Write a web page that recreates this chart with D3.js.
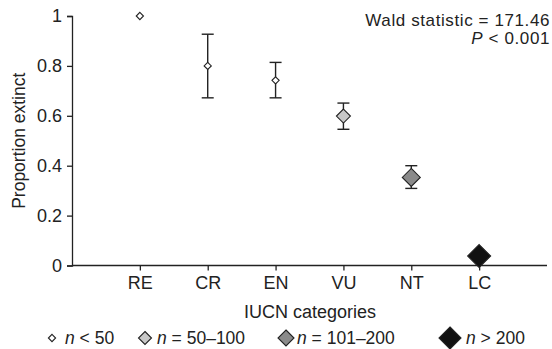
<!DOCTYPE html>
<html>
<head>
<meta charset="utf-8">
<script src="https://cdn.jsdelivr.net/npm/d3@7"></script>
<style>
body { margin: 0; background: #fff; }
text { font-family: "Liberation Sans", Arial, sans-serif; fill: #222; }
</style>
</head>
<body>
<div id="chart"></div>
<script>
// data
const categories = ["RE", "CR", "EN", "VU", "NT", "LC"];
const proportion = [1.0, 0.80, 0.742, 0.599, 0.353, 0.038];
const lower = [null, 0.672, 0.672, 0.546, 0.309, null];
const upper = [null, 0.927, 0.814, 0.651, 0.400, null];
const sizeClass = [0, 0, 0, 1, 2, 3];
const yTicks = [0, 0.2, 0.4, 0.6, 0.8, 1];
const legendLabels = ["< 50", "= 50\u2013100", "= 101\u2013200", "> 200"];

const width = 552, height = 349;
const svg = d3.select("#chart").append("svg")
  .attr("width", width).attr("height", height);

const x = d3.scaleLinear().domain([0, 7]).range([72, 547]);
const y = d3.scaleLinear().domain([0, 1]).range([265.5, 16]);

// marker styles per sample size class
const fills = ["#fff", "#c8c8c8", "#8a8a8a", "#111"];
const radii = [3.6, 7, 9, 11.5];
const diamond = r => `M0,${-r}L${r},0L0,${r}L${-r},0Z`;

// y axis
const yAxis = d3.axisLeft(y).tickValues(yTicks).tickSize(5).tickPadding(5)
  .tickFormat(d => d3.format("")(d));
const gy = svg.append("g").attr("transform", `translate(${x(0)},0)`).call(yAxis);
gy.select(".domain").attr("stroke", "#222").attr("stroke-width", 1.3);
gy.selectAll(".tick line").attr("stroke", "#222").attr("stroke-width", 1.3);
gy.selectAll(".tick text").style("font-size", "18px").attr("fill", "#222");

// x axis
const xAxis = d3.axisBottom(x).tickValues(d3.range(1, 7)).tickSize(5).tickPadding(6)
  .tickFormat(d => categories[d - 1]);
const gx = svg.append("g").attr("transform", `translate(0,${y(0)})`).call(xAxis);
gx.select(".domain").attr("stroke", "#222").attr("stroke-width", 1.3)
  .attr("d", `M${x(0)},0H${x(7)}`);
gx.selectAll(".tick line").attr("stroke", "#222").attr("stroke-width", 1.3);
gx.selectAll(".tick text").style("font-size", "18px").attr("fill", "#222");

// axis titles
svg.append("text")
  .attr("transform", `translate(25,${y(0.5)}) rotate(-90)`)
  .attr("text-anchor", "middle")
  .style("font-size", "17.5px")
  .text("Proportion extinct");

svg.append("text")
  .attr("x", 310).attr("y", 318)
  .attr("text-anchor", "middle")
  .style("font-size", "18px")
  .text("IUCN categories");

// error bars
const pts = categories.map((c, i) => ({
  c, i, v: proportion[i], lo: lower[i], hi: upper[i], s: sizeClass[i]
}));
const eb = svg.selectAll("g.err").data(pts.filter(d => d.lo != null))
  .enter().append("g").attr("class", "err")
  .attr("stroke", "#222").attr("stroke-width", 1.4);
eb.append("line")
  .attr("x1", d => x(d.i + 1)).attr("x2", d => x(d.i + 1))
  .attr("y1", d => y(d.lo)).attr("y2", d => y(d.hi));
eb.append("line")
  .attr("x1", d => x(d.i + 1) - 6).attr("x2", d => x(d.i + 1) + 6)
  .attr("y1", d => y(d.hi)).attr("y2", d => y(d.hi));
eb.append("line")
  .attr("x1", d => x(d.i + 1) - 6).attr("x2", d => x(d.i + 1) + 6)
  .attr("y1", d => y(d.lo)).attr("y2", d => y(d.lo));

// markers
svg.selectAll("path.pt").data(pts).enter().append("path")
  .attr("class", "pt")
  .attr("transform", d => `translate(${x(d.i + 1)},${y(d.v)})`)
  .attr("d", d => diamond(radii[d.s]))
  .attr("fill", d => fills[d.s])
  .attr("stroke", "#222")
  .attr("stroke-width", 1.1);

// statistics
const stat = svg.append("g").style("font-size", "17px").attr("text-anchor", "end")
  .style("letter-spacing", "0.6px");
stat.append("text").attr("x", 550).attr("y", 26).text("Wald statistic = 171.46");
const p = stat.append("text").attr("x", 550).attr("y", 44);
p.append("tspan").style("font-style", "italic").text("P");
p.append("tspan").text(" < 0.001");

// legend
const legX = [52, 145, 286, 450];
const legTx = [65, 157, 297, 466];
const legR = [3.6, 6.5, 8, 11];
const leg = svg.selectAll("g.leg").data(legendLabels).enter().append("g")
  .attr("class", "leg");
leg.append("path")
  .attr("transform", (d, i) => `translate(${legX[i]},338)`)
  .attr("d", (d, i) => diamond(legR[i]))
  .attr("fill", (d, i) => fills[i])
  .attr("stroke", "#222").attr("stroke-width", 1.1);
const lt = leg.append("text")
  .attr("x", (d, i) => legTx[i]).attr("y", 344)
  .style("font-size", "17.5px");
lt.append("tspan").style("font-style", "italic").text("n");
lt.append("tspan").text(d => " " + d);
</script>
</body>
</html>
